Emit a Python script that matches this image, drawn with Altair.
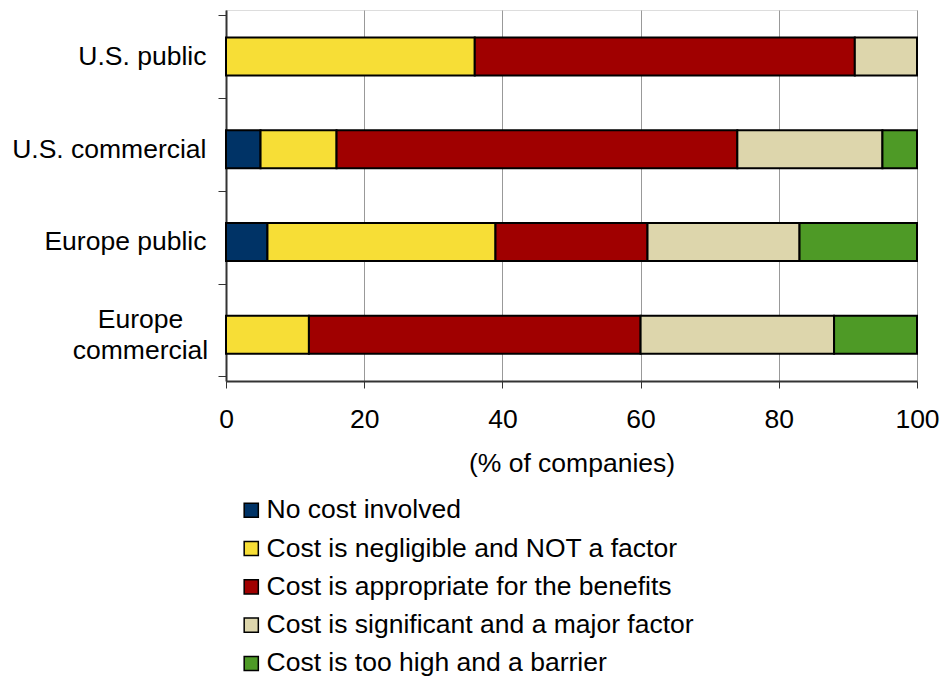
import altair as alt
import pandas as pd

# Survey groups (top to bottom) and cost-attitude categories (left to right)
groups = ["U.S. public", "U.S. commercial", "Europe public", "Europe commercial"]
categories = [
    "No cost involved",
    "Cost is negligible and NOT a factor",
    "Cost is appropriate for the benefits",
    "Cost is significant and a major factor",
    "Cost is too high and a barrier",
]
colors = ["#003366", "#F7DE36", "#A00000", "#DDD6AC", "#4E9A26"]

# Share of companies (%) per group, one list per category
no_cost = [0, 5, 6, 0]
negligible = [36, 11, 33, 12]
appropriate = [55, 58, 22, 48]
significant = [9, 21, 22, 28]
too_high = [0, 5, 17, 12]

series = [no_cost, negligible, appropriate, significant, too_high]
rows = []
for ci, (cat, vals) in enumerate(zip(categories, series)):
    for g, v in zip(groups, vals):
        rows.append({"group": g, "category": cat, "order": ci, "value": v})
df = pd.DataFrame(rows)

FONT = "Liberation Sans"
FS = 26.5
TWO_LINE = "datum.label == 'Europe commercial'"

bars = alt.Chart(df).mark_bar(size=38, stroke="black", strokeWidth=2).encode(
    x=alt.X(
        "value:Q",
        stack="zero",
        scale=alt.Scale(domain=[0, 100], nice=False),
        axis=alt.Axis(
            values=[0, 20, 40, 60, 80, 100],
            title="(% of companies)",
            titleFont=FONT,
            titleFontSize=FS,
            titleFontWeight="normal",
            titleColor="black",
            titlePadding=18,
            labelFont=FONT,
            labelFontSize=FS,
            labelColor="black",
            labelPadding=18,
            labelFlush=False,
            labelOverlap=False,
            tickSize=7,
            tickColor="#333333",
            domainColor="#333333",
            domainWidth=2,
            gridColor="#999999",
            gridWidth=1,
        ),
    ),
    y=alt.Y(
        "group:N",
        sort=groups,
        title=None,
        axis=alt.Axis(
            tickBand="extent",
            tickSize=8,
            tickColor="#333333",
            domainColor="#333333",
            domainWidth=2,
            grid=False,
            labelFont=FONT,
            labelFontSize=FS,
            labelColor="black",
            labelLimit=300,
            labelLineHeight=31,
            labelExpr=f"{TWO_LINE} ? ['Europe', 'commercial'] : datum.label",
            labelAlign=alt.condition(TWO_LINE, alt.value("center"), alt.value("right")),
            labelPadding=alt.condition(TWO_LINE, alt.value(78), alt.value(12)),
            labelOffset=alt.condition(TWO_LINE, alt.value(-15), alt.value(0)),
        ),
    ),
    color=alt.Color(
        "category:N",
        sort=categories,
        scale=alt.Scale(domain=categories, range=colors),
        legend=alt.Legend(
            title=None,
            orient="none",
            legendX=12,
            legendY=487,
            direction="vertical",
            symbolType="square",
            symbolSize=200,
            symbolStrokeColor="black",
            symbolStrokeWidth=1.5,
            symbolOpacity=1,
            labelFont=FONT,
            labelFontSize=FS,
            labelColor="black",
            labelOffset=2,
            rowPadding=11.3,
            labelLimit=700,
        ),
    ),
    order=alt.Order("order:Q"),
)

chart = (
    bars.properties(
        width=691,
        height=371,
        autosize=alt.AutoSizeParams(type="none"),
        padding={"left": 226, "top": 10, "right": 24, "bottom": 295},
    )
    .configure_view(stroke="#888888", strokeWidth=2)
    .configure(background="white")
)

chart.save("out.html", embed_options={"renderer": "svg", "actions": False})
